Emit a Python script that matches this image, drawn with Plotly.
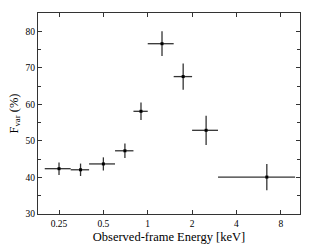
import plotly.graph_objects as go
import numpy as np

energy = [0.25, 0.35, 0.50, 0.70, 0.90, 1.25, 1.74, 2.49, 6.43]
e_lo = [0.20, 0.30, 0.40, 0.60, 0.80, 1.00, 1.50, 2.00, 3.00]
e_hi = [0.30, 0.40, 0.60, 0.80, 1.00, 1.50, 2.00, 3.00, 10.0]
fvar = [42.4, 42.1, 43.7, 47.3, 58.1, 76.6, 67.6, 52.9, 40.1]
fvar_err = [1.7, 1.7, 1.8, 2.0, 2.4, 3.4, 3.6, 4.0, 3.6]
xticks = [0.25, 0.5, 1, 2, 4, 8]
xticklabels = ["0.25", "0.5", "1", "2", "4", "8"]

plus = [h - e for h, e in zip(e_hi, energy)]
minus = [e - l for e, l in zip(energy, e_lo)]

fig = go.Figure(go.Scatter(
    x=energy, y=fvar, mode="markers",
    marker=dict(symbol="square", size=3, color="black"),
    error_x=dict(type="data", array=plus, arrayminus=minus, width=0, color="#333", thickness=1.3),
    error_y=dict(type="data", array=fvar_err, width=0, color="#333", thickness=1.3),
))

font = "Times New Roman"
fig.update_layout(
    width=326, height=252,
    margin=dict(l=38, r=26, t=13, b=38),
    paper_bgcolor="white", plot_bgcolor="white",
    showlegend=False,
    font=dict(family=font, color="black", size=10),
    xaxis=dict(
        type="log", range=[np.log10(0.18), np.log10(10.8)],
        tickvals=xticks, ticktext=xticklabels, automargin=False,
        ticks="inside", ticklen=4, tickcolor="#333", tickwidth=1,
        showline=True, linecolor="#333", linewidth=1.2, mirror="allticks",
        showgrid=False, zeroline=False,
        title=dict(text="Observed-frame Energy [keV]", font=dict(size=12.5, family=font), standoff=4),
        tickfont=dict(size=9.5, family=font),
    ),
    yaxis=dict(
        range=[30, 85], tickvals=[30, 40, 50, 60, 70, 80], automargin=False,
        ticks="inside", ticklen=4, tickcolor="#333", tickwidth=1,
        minor=dict(tickvals=[35, 45, 55, 65, 75, 85], ticks="inside", ticklen=3, tickcolor="#333"),
        showline=True, linecolor="#333", linewidth=1.2, mirror="allticks",
        showgrid=False, zeroline=False,
        title=dict(text="F<sub>var</sub> (%)", font=dict(size=12.5, family=font), standoff=4),
        tickfont=dict(size=9.5, family=font),
    ),
)
fig.write_html("out.html", config={"displayModeBar": False},
               post_script="document.body.style.margin='0';")
